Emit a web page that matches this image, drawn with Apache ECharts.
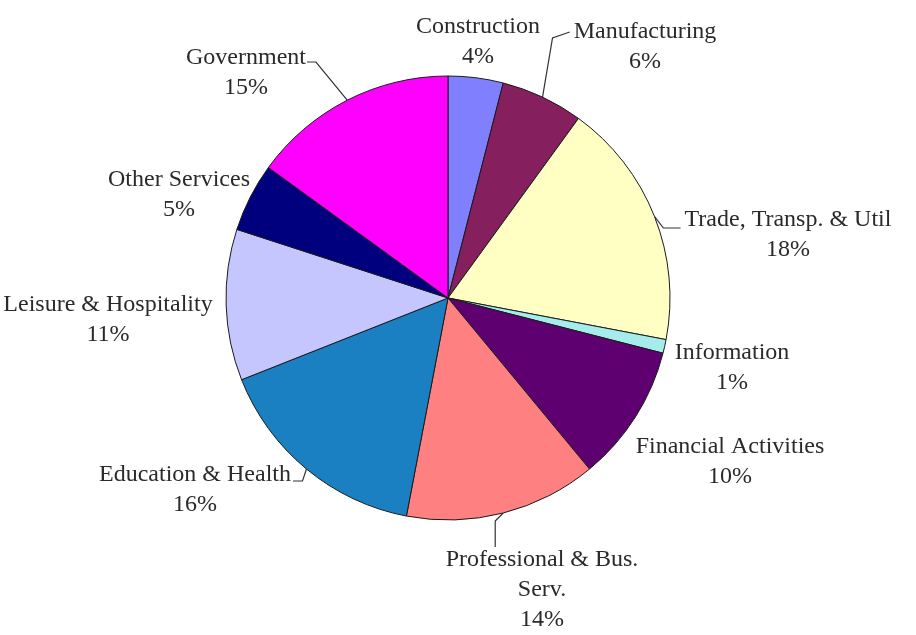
<!DOCTYPE html>
<html>
<head>
<meta charset="utf-8">
<script src="https://cdn.jsdelivr.net/npm/echarts@6/dist/echarts.min.js"></script>
<style>
html,body{margin:0;padding:0;background:#fff;}
#chart{width:916px;height:635px;}
</style>
</head>
<body>
<div id="chart"></div>
<script>
var categories = ['Construction', 'Manufacturing', 'Trade, Transp. & Util', 'Information', 'Financial Activities', 'Professional & Bus.\nServ.', 'Education & Health', 'Leisure & Hospitality', 'Other Services', 'Government'];
var shares = [4, 6, 18, 1, 10, 14, 16, 11, 5, 15];
var colors = ['#8080ff', '#851f5e', '#ffffc4', '#a6ecec', '#5e0070', '#ff8080', '#1a80c2', '#c6c6ff', '#00007f', '#ff00ff'];

// label layout (offsets of the label's top-centre from the pie centre) and leader-line visibility
var pieCenter = [448, 298];
var labelOffsets = [[30, -286], [197, -281], [340, -93], [284, 40], [282, 134], [94, 247], [-253, 162], [-340, -8], [-269, -133], [-202, -255]];
var showLeader = [false, true, true, false, false, true, true, false, false, true];

var labelFont = '24px "Liberation Serif"';
var measureCtx = document.createElement('canvas').getContext('2d');
measureCtx.font = labelFont;
function firstLineWidth(name) {
  return measureCtx.measureText(name.split('\n')[0]).width;
}

var chart = echarts.init(document.getElementById('chart'));
var data = categories.map(function (c, i) {
  return { name: c, value: shares[i], itemStyle: { color: colors[i] } };
});

chart.setOption({
  animation: false,
  series: [{
    type: 'pie',
    center: pieCenter,
    radius: 222,
    startAngle: 90,
    clockwise: true,
    data: data,
    itemStyle: { borderColor: '#1a1a1a', borderWidth: 1 },
    label: {
      show: true,
      position: 'outside',
      formatter: '{b}\n{d}%',
      fontFamily: 'Liberation Serif',
      fontSize: 24,
      lineHeight: 30,
      color: '#2a2a2a',
      overflow: 'none'
    },
    labelLine: { show: true, length: 10, length2: 10, lineStyle: { color: '#333', width: 1.2 } },
    labelLayout: function (p) {
      var i = p.dataIndex;
      var x = pieCenter[0] + labelOffsets[i][0];
      var y = pieCenter[1] + labelOffsets[i][1];
      var res = { x: x, y: y, align: 'center', verticalAlign: 'top' };
      var edge = p.labelLinePoints ? p.labelLinePoints[0] : null;
      if (!showLeader[i] || !edge) {
        res.labelLinePoints = edge ? [edge, edge, edge] : undefined;
        return res;
      }
      var w = firstLineWidth(categories[i]);
      var firstLineY = y + 15;
      var pts;
      if (i === 1) {
        pts = [edge, [edge[0] + 10, firstLineY + 6], [x - w / 2 - 4, firstLineY]];
      } else if (i === 2) {
        pts = [edge, [edge[0] + 9, firstLineY + 8], [x - w / 2 - 4, firstLineY + 8]];
      } else if (i === 5) {
        pts = [edge, [edge[0] - 8, edge[1] + 8], [edge[0] - 8, y + 2]];
      } else if (i === 6) {
        pts = [edge, [edge[0] - 4, firstLineY + 6], [x + w / 2 + 2, firstLineY + 6]];
      } else {
        pts = [edge, [x + w / 2 + 10, firstLineY + 4], [x + w / 2 + 1, firstLineY + 4]];
      }
      res.labelLinePoints = pts;
      return res;
    }
  }]
});
</script>
</body>
</html>
